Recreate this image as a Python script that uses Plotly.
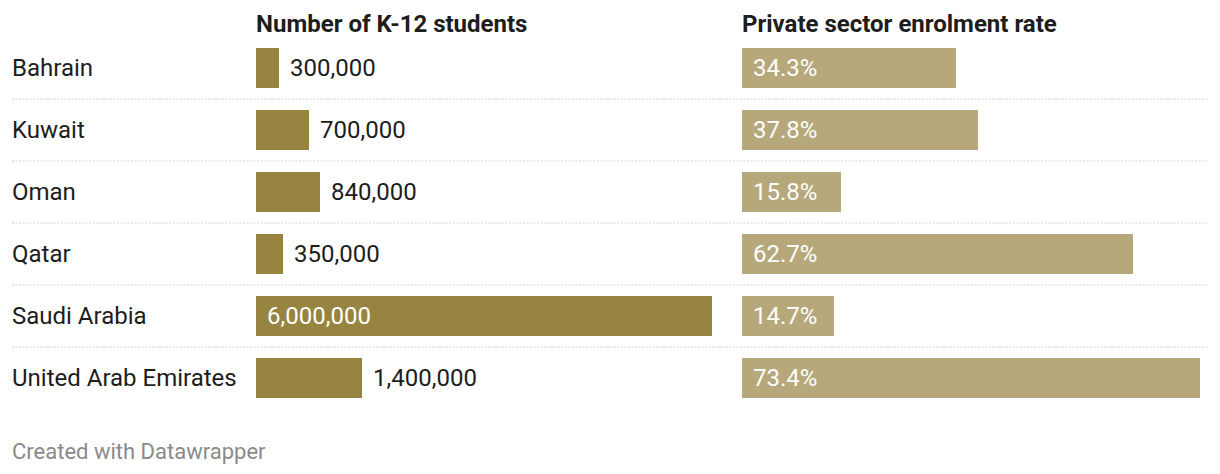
import plotly.graph_objects as go

countries = ["Bahrain", "Kuwait", "Oman", "Qatar", "Saudi Arabia", "United Arab Emirates"]
students = [300000, 700000, 840000, 350000, 6000000, 1400000]
private_rate = [34.3, 37.8, 15.8, 62.7, 14.7, 73.4]
header_left = "Number of K-12 students"
header_right = "Private sector enrolment rate"
footer = "Created with Datawrapper"

W, H = 1220, 474
DARK = "#978441"
LIGHT = "#b6a87b"
TXT = "#1d1d1d"
FONT = "Roboto"
FS = 24

fig = go.Figure()
fig.add_trace(go.Bar(y=countries, x=students, orientation="h", marker_color=DARK,
                     marker_line_width=0, width=40/62, xaxis="x", yaxis="y",
                     hoverinfo="skip"))
fig.add_trace(go.Bar(y=countries, x=private_rate, orientation="h", marker_color=LIGHT,
                     marker_line_width=0, width=40/62, xaxis="x2", yaxis="y",
                     hoverinfo="skip"))

ann = []
shapes = []
maxs = max(students)
for i, (c, s, p) in enumerate(zip(countries, students, private_rate)):
    ann.append(dict(x=10/W, xref="paper", y=c, yref="y", text=c, showarrow=False,
                    xanchor="left", yanchor="middle", font=dict(family=FONT, size=FS, color=TXT)))
    lbl = f"{s:,}"
    inside = s / maxs > 0.5
    if inside:
        ann.append(dict(x=0, xref="x", y=c, yref="y", text=lbl, showarrow=False,
                        xanchor="left", yanchor="middle", xshift=9,
                        font=dict(family=FONT, size=FS, color="white")))
    else:
        ann.append(dict(x=s, xref="x", y=c, yref="y", text=lbl, showarrow=False,
                        xanchor="left", yanchor="middle", xshift=9,
                        font=dict(family=FONT, size=FS, color=TXT)))
    ann.append(dict(x=0, xref="x2", y=c, yref="y", text=f"{p}%", showarrow=False,
                    xanchor="left", yanchor="middle", xshift=9,
                    font=dict(family=FONT, size=FS, color="white")))
    if i < len(countries) - 1:
        shapes.append(dict(type="line", xref="paper", yref="y", x0=12/W, x1=1208/W,
                           y0=i + 0.5, y1=i + 0.5,
                           line=dict(color="#d2d2d2", width=1, dash="2px,1.5px")))

ann.append(dict(x=254/W, xref="paper", y=1 - 24/H, yref="paper", text=f"<b>{header_left}</b>",
                showarrow=False, xanchor="left", yanchor="middle",
                font=dict(family=FONT, size=24, color=TXT)))
ann.append(dict(x=740/W, xref="paper", y=1 - 24/H, yref="paper", text=f"<b>{header_right}</b>",
                showarrow=False, xanchor="left", yanchor="middle",
                font=dict(family=FONT, size=24, color=TXT)))
ann.append(dict(x=10/W, xref="paper", y=1 - 451/H, yref="paper", text=footer,
                showarrow=False, xanchor="left", yanchor="middle",
                font=dict(family=FONT, size=22, color="#8a8a8a")))

fig.update_layout(
    width=W, height=H, margin=dict(l=0, r=0, t=0, b=0),
    paper_bgcolor="white", plot_bgcolor="white", showlegend=False,
    xaxis=dict(domain=[256/W, 712/W], range=[0, maxs], visible=False, fixedrange=True),
    xaxis2=dict(domain=[742/W, 1200/W], range=[0, max(private_rate)], visible=False, fixedrange=True),
    yaxis=dict(range=[(H - 68)/62, -68/62], visible=False, fixedrange=True,
               categoryorder="array", categoryarray=countries),
    annotations=ann, shapes=shapes, bargap=0,
)
fig.write_html("out.html", config={"displayModeBar": False})
